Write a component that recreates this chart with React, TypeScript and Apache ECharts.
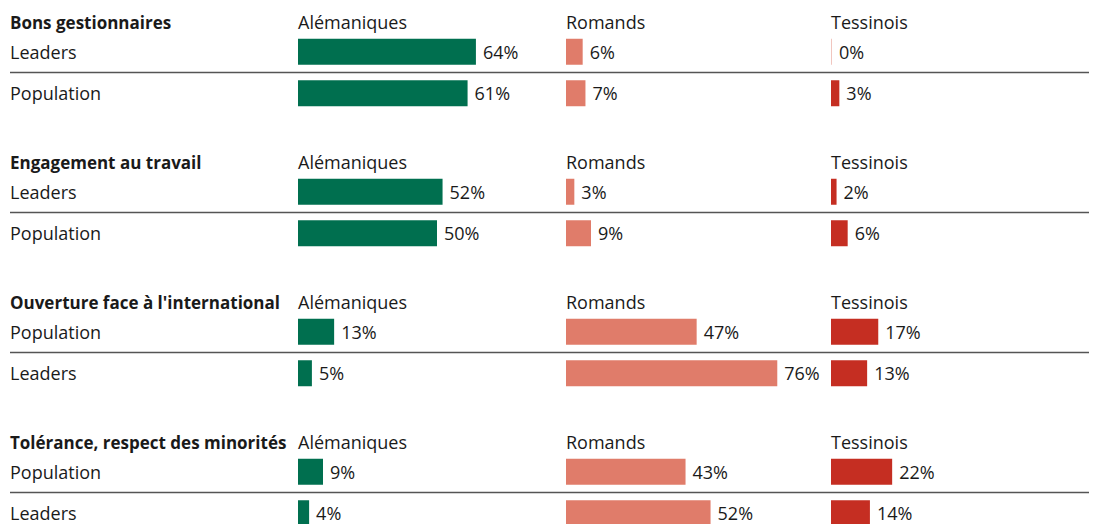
import React, { useEffect, useRef } from "react";
import * as echarts from "echarts";

const groupTitles = [
  "Bons gestionnaires",
  "Engagement au travail",
  "Ouverture face à l'international",
  "Tolérance, respect des minorités",
];
const columnNames = ["Alémaniques", "Romands", "Tessinois"];
const rowLabels = [
  ["Leaders", "Population"],
  ["Leaders", "Population"],
  ["Population", "Leaders"],
  ["Population", "Leaders"],
];
const alemaniques = [
  [64, 61],
  [52, 50],
  [13, 5],
  [9, 4],
];
const romands = [
  [6, 7],
  [3, 9],
  [47, 76],
  [43, 52],
];
const tessinois = [
  [0, 3],
  [2, 6],
  [17, 13],
  [22, 14],
];

const FONT = '"Open Sans", sans-serif';
const TEXT = "#1a1a1a";
const COLORS = ["#006f4f", "#e07c6a", "#c52e22"];
const ZERO_COLOR = "#f1c6bf";
const COL_LEFT = [298, 566, 831];
const GROUP_STEP = 140;
const GRID_TOP = 31;
const GRID_H = 83;
const SCALE_W = 278;

export default function App() {
  const ref = useRef<HTMLDivElement>(null);
  useEffect(() => {
    document.body.style.margin = "0";
    const chart = echarts.init(ref.current!, null, { renderer: "svg" });
    const columnsData = [alemaniques, romands, tessinois];
    const grid: any[] = [];
    const xAxis: any[] = [];
    const yAxis: any[] = [];
    const series: any[] = [];
    const graphic: any[] = [];
    groupTitles.forEach((title, g) => {
      const top = GRID_TOP + GROUP_STEP * g;
      graphic.push({
        type: "text",
        x: 10,
        y: top - 9,
        style: {
          text: title,
          font: `bold 17px ${FONT}`,
          fill: TEXT,
          verticalAlign: "middle",
        },
      });
      graphic.push({
        type: "line",
        shape: { x1: 10, y1: top + GRID_H / 2, x2: 1089, y2: top + GRID_H / 2 },
        style: { stroke: "#555", lineWidth: 1.5 },
      });
      columnNames.forEach((col, c) => {
        graphic.push({
          type: "text",
          x: COL_LEFT[c],
          y: top - 9,
          style: {
            text: col,
            font: `18px ${FONT}`,
            fill: TEXT,
            verticalAlign: "middle",
          },
        });
        const idx = grid.length;
        grid.push({
          left: COL_LEFT[c],
          top,
          width: SCALE_W,
          height: GRID_H,
          containLabel: false,
          outerBoundsMode: "none",
        });
        xAxis.push({ type: "value", gridIndex: idx, min: 0, max: 100, show: false });
        yAxis.push({
          type: "category",
          gridIndex: idx,
          data: rowLabels[g],
          inverse: true,
          axisLine: { show: false },
          axisTick: { show: false },
          splitLine: { show: false },
          axisLabel: {
            show: c === 0,
            align: "left",
            margin: COL_LEFT[0] - 10,
            fontSize: 18,
            fontFamily: FONT,
            color: TEXT,
            padding: [8, 0, 0, 0],
          },
        });
        series.push({
          type: "bar",
          xAxisIndex: idx,
          yAxisIndex: idx,
          barWidth: 26,
          barMinHeight: 1,
          itemStyle: { color: COLORS[c] },
          data: columnsData[c][g].map((v) =>
            v === 0 ? { value: v, itemStyle: { color: ZERO_COLOR } } : v
          ),
          label: {
            show: true,
            position: "right",
            distance: 7,
            formatter: "{c}%",
            fontSize: 18,
            fontFamily: FONT,
            color: TEXT,
            padding: [8, 0, 0, 0],
          },
        });
      });
    });
    chart.setOption({
      animation: false,
      backgroundColor: "#ffffff",
      grid,
      xAxis,
      yAxis,
      series,
      graphic,
    });
    return () => chart.dispose();
  }, []);
  return <div ref={ref} style={{ width: 1102, height: 524 }} />;
}
